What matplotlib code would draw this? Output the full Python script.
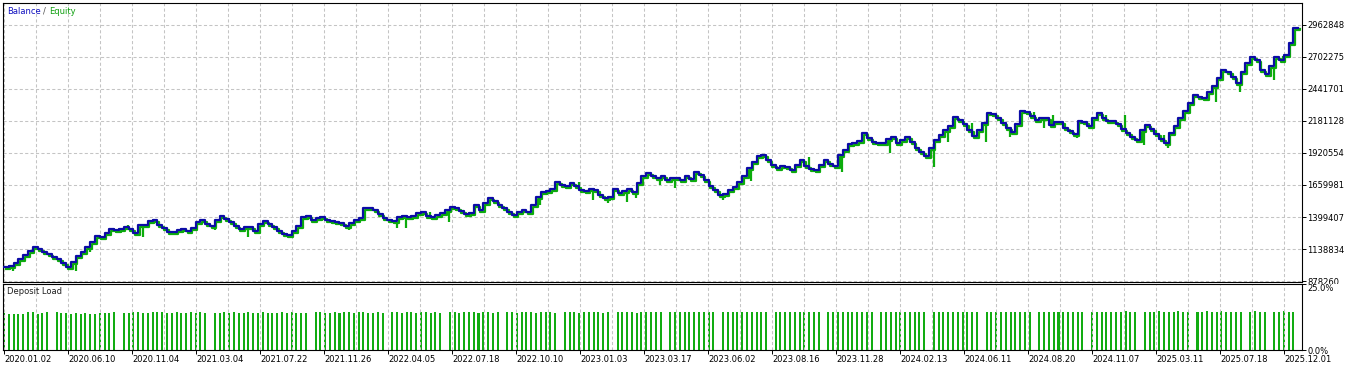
import numpy as np
import matplotlib.pyplot as plt
from matplotlib.transforms import offset_copy
from matplotlib.patches import Rectangle

# balance after each deal, in thousands
balance_k = [
    994.3, 1002.4, 1026.8, 1059.2, 1091.7, 1124.2, 1156.7, 1140.5, 1116.1, 1099.9,
    1075.5, 1059.2, 1026.8, 994.3, 1034.9, 1083.6, 1116.1, 1156.7, 1197.2, 1245.9,
    1237.8, 1270.3, 1302.8, 1294.7, 1302.8, 1318.9, 1302.8, 1270.3, 1335.2, 1335.2,
    1367.7, 1375.8, 1335.2, 1310.9, 1278.4, 1278.4, 1294.7, 1302.8, 1286.6, 1310.9,
    1359.6, 1375.8, 1343.4, 1327.2, 1375.8, 1408.3, 1383.9, 1359.6, 1327.2, 1302.8,
    1318.9, 1318.9, 1286.6, 1343.4, 1367.7, 1343.4, 1318.9, 1286.6, 1262.2, 1254.0,
    1286.6, 1327.2, 1400.2, 1408.3, 1375.8, 1392.1, 1400.2, 1375.8, 1367.7, 1359.6,
    1351.5, 1327.2, 1351.5, 1375.8, 1392.1, 1473.3, 1473.3, 1457.0, 1424.6, 1392.1,
    1375.8, 1367.7, 1400.2, 1408.3, 1400.2, 1408.3, 1432.7, 1440.8, 1408.3, 1400.2,
    1416.5, 1432.7, 1457.0, 1481.4, 1473.3, 1448.9, 1424.6, 1432.7, 1497.6, 1457.0,
    1513.8, 1554.4, 1530.0, 1497.6, 1473.3, 1440.8, 1416.5, 1440.8, 1457.0, 1440.8,
    1497.6, 1562.5, 1603.1, 1611.2, 1627.5, 1684.3, 1660.0, 1651.9, 1676.2, 1651.9,
    1619.4, 1611.2, 1627.5, 1619.4, 1578.8, 1554.4, 1562.5, 1627.5, 1595.0, 1611.2,
    1627.5, 1603.1, 1676.2, 1733.0, 1757.4, 1733.0, 1716.8, 1733.0, 1700.6, 1716.8,
    1716.8, 1700.6, 1733.0, 1708.7, 1765.5, 1741.1, 1700.6, 1651.9, 1619.4, 1578.8,
    1586.9, 1619.4, 1643.7, 1684.3, 1733.0, 1798.0, 1846.7, 1895.4, 1903.5, 1862.9,
    1822.3, 1798.0, 1814.2, 1806.1, 1781.7, 1822.3, 1862.9, 1814.2, 1789.8, 1781.7,
    1822.3, 1862.9, 1830.4, 1814.2, 1903.5, 1944.1, 1992.8, 2001.0, 2017.2, 2082.2,
    2041.6, 2009.1, 2001.0, 2001.0, 2033.5, 2049.7, 2001.0, 2025.3, 2049.7, 2009.1,
    1960.3, 1927.9, 1895.4, 1960.3, 2025.3, 2065.9, 2106.4, 2138.9, 2212.0, 2187.6,
    2155.2, 2106.4, 2057.7, 2106.4, 2163.3, 2244.5, 2236.3, 2203.9, 2163.3, 2122.7,
    2090.3, 2155.2, 2260.7, 2252.6, 2220.1, 2187.6, 2203.9, 2203.9, 2147.0, 2171.4,
    2171.4, 2122.7, 2098.4, 2074.0, 2179.5, 2171.4, 2138.9, 2203.9, 2244.5, 2203.9,
    2179.5, 2179.5, 2155.2, 2114.6, 2082.2, 2049.7, 2025.3, 2106.4, 2147.0, 2114.6,
    2074.0, 2033.5, 2001.0, 2082.2, 2138.9, 2203.9, 2260.7, 2325.6, 2390.6, 2374.3,
    2366.2, 2414.9, 2463.6, 2528.6, 2593.5, 2577.3, 2536.7, 2488.0, 2577.3, 2650.3,
    2699.0, 2674.7, 2593.5, 2561.0, 2626.0, 2699.0, 2674.7, 2715.3, 2812.7, 2934.4,
    2936.0,
]

# equity extremes that stick out of the balance line
spike_deal = [1, 14, 17, 25, 28, 43, 46, 50, 59, 63, 71, 81, 83, 88, 91, 92,
              111, 113, 119, 122, 125, 129, 131, 136, 139, 149, 155, 167, 174,
              184, 193, 196, 201, 204, 209, 214, 216, 218, 223, 229, 233, 237,
              241, 242, 252, 257, 264, 266]
spike_equity_k = [975.6, 975.6, 1132.3, 1349.0, 1254.1, 1308.4, 1408.3, 1254.1,
                  1240.3, 1430.2, 1311.0, 1321.5, 1321.5, 1457.0, 1457.0, 1370.0,
                  1514.0, 1643.7, 1700.6, 1554.4, 1524.4, 1538.2, 1565.0, 1676.2,
                  1646.0, 1554.4, 1708.7, 1903.5, 1781.7, 1930.3, 1822.3, 2025.3,
                  2173.8, 2025.3, 2065.9, 2268.8, 2133.2, 2242.0, 2052.0, 2242.0,
                  2242.0, 1998.5, 2080.0, 1970.9, 2350.0, 2431.2, 2526.0, 2721.0]

# deposit load per deal, %
deposit_load = [
    14.1, 13.6, 13.6, 13.6, 13.6, 14.3, 14.3, 13.6, 13.9, 14.3,
    0.0, 14.3, 13.9, 13.9, 13.6, 13.9, 13.6, 13.9, 13.6, 13.6,
    13.9, 13.9, 13.9, 14.3, 0.0, 13.9, 13.9, 14.3, 14.3, 13.9,
    13.9, 14.3, 14.3, 14.3, 13.9, 13.9, 14.3, 13.9, 13.9, 14.3,
    13.9, 14.3, 13.9, 0.0, 13.9, 13.9, 14.3, 13.9, 14.3, 13.9,
    13.9, 14.3, 13.9, 13.9, 14.3, 13.9, 13.9, 13.9, 14.3, 13.9,
    14.3, 13.9, 13.9, 13.9, 0.0, 14.3, 14.3, 13.9, 13.9, 14.3,
    13.9, 14.3, 14.3, 13.9, 14.3, 14.3, 13.9, 13.9, 14.3, 13.9,
    0.0, 14.3, 14.3, 13.9, 14.3, 14.3, 13.9, 14.3, 14.3, 13.9,
    14.3, 13.9, 0.0, 14.3, 14.3, 13.9, 14.3, 14.3, 14.3, 13.9,
    14.3, 14.3, 13.9, 14.3, 0.0, 14.3, 14.3, 13.9, 14.3, 14.3,
    14.3, 13.9, 14.3, 14.3, 14.3, 13.9, 0.0, 14.3, 14.3, 14.3,
    13.9, 14.3, 14.3, 14.5, 14.3, 13.9, 14.3, 0.0, 14.3, 14.5,
    14.3, 14.3, 13.9, 14.5, 14.3, 14.3, 14.3, 14.5, 0.0, 14.3,
    14.5, 14.3, 14.3, 14.5, 14.3, 14.3, 14.5, 14.3, 14.3, 0.0,
    14.3, 14.5, 14.3, 14.5, 14.3, 14.3, 14.5, 14.5, 14.3, 14.3,
    0.0, 14.5, 14.3, 14.5, 14.3, 14.5, 14.5, 14.3, 14.5, 14.3,
    14.5, 0.0, 14.3, 14.5, 14.5, 14.3, 14.5, 14.3, 14.5, 14.5,
    14.3, 14.5, 0.0, 14.5, 14.3, 14.5, 14.5, 14.3, 14.5, 14.5,
    14.3, 14.5, 14.5, 0.0, 14.5, 14.3, 14.5, 14.5, 14.5, 14.3,
    14.5, 14.5, 14.3, 14.5, 0.0, 14.5, 14.5, 14.3, 14.5, 14.5,
    14.5, 14.3, 14.5, 14.5, 14.5, 0.0, 14.5, 14.5, 14.3, 14.5,
    14.5, 14.5, 14.3, 14.5, 14.5, 14.5, 0.0, 14.5, 14.5, 14.5,
    14.5, 14.3, 14.5, 14.5, 14.9, 14.5, 14.5, 0.0, 14.5, 14.5,
    14.5, 14.9, 14.5, 14.5, 14.5, 14.9, 14.5, 14.5, 0.0, 14.5,
    14.5, 14.9, 14.5, 14.5, 14.9, 14.5, 14.5, 14.5, 14.5, 0.0,
    14.5, 14.9, 14.5, 14.5, 0.0, 14.5, 14.5, 14.9, 14.5, 14.5,
    0.0,
]

date_labels = ['2020.01.02', '2020.06.10', '2020.11.04', '2021.03.04', '2021.07.22',
               '2021.11.26', '2022.04.05', '2022.07.18', '2022.10.10', '2023.01.03',
               '2023.03.17', '2023.06.02', '2023.08.16', '2023.11.28', '2024.02.13',
               '2024.06.11', '2024.08.20', '2024.11.07', '2025.03.11', '2025.07.18',
               '2025.12.01']
y_levels = [878260, 1138834, 1399407, 1659981, 1920554, 2181128, 2441701, 2702275, 2962848]

balance = np.array(balance_k) * 1000
deals = np.arange(len(balance))
spike_eq = np.array(spike_equity_k) * 1000
spike_bal = balance[spike_deal]

W, H = 1346, 367
plt.rcParams['font.family'] = ['DejaVu Sans']
fs = 6.0
blue = '#0c0ca6'
green = '#0cac0c'
grid_kw = dict(color='#c4c4c4', linestyle=(0, (3.0, 2.2)), linewidth=0.75)

fig = plt.figure(figsize=(W / 100, H / 100), dpi=100)


def px_box(x0, y0, x1, y1):
    # pixel box, origin top-left -> figure fraction
    return [x0 / W, 1 - y1 / H, (x1 - x0) / W, (y1 - y0) / H]


ax = fig.add_axes(px_box(3, 3, 1302, 281.5))
ax2 = fig.add_axes(px_box(3, 284, 1302, 350), zorder=2)

n_last = len(balance) - 1
xlo, xhi = -0.2, n_last + 0.8
label_step = 64 * (xhi - xlo) / 1299
major = np.arange(len(date_labels)) * label_step
minor = np.arange(0, n_last + 1, label_step / 2)

# main panel
eq_tr = offset_copy(ax.transData, fig=fig, x=1.6, y=-1.6, units='dots')
ax.plot(deals, balance, drawstyle='steps-post', color=green, lw=1.6,
        transform=eq_tr, zorder=3)
ax.vlines(np.array(spike_deal) + 0.6, spike_bal, spike_eq, color=green, lw=1.6,
          transform=eq_tr, zorder=3)
ax.plot(deals, balance, drawstyle='steps-post', color=blue, lw=1.6, zorder=4)

ax.set_xlim(xlo, xhi)
ax.set_ylim(876600, 3137400)
ax.set_xticks(minor)
ax.tick_params(axis='x', length=0, labelbottom=False)
ax.yaxis.tick_right()
ax.set_yticks(y_levels, labels=[str(v) for v in y_levels])
ax.tick_params(axis='y', length=3, width=0.7, pad=1.0, labelsize=fs, colors='black')
ax.grid(True, **grid_kw)
for s in ax.spines.values():
    s.set_linewidth(0.8)

fig.text(7 / W, 1 - 11 / H, 'Balance', color='#1010c0', fontsize=fs, va='center')
fig.text(43 / W, 1 - 11 / H, '/', color='#505050', fontsize=fs, va='center')
fig.text(49 / W, 1 - 11 / H, 'Equity', color='#10a010', fontsize=fs, va='center')

# hide lower half of the last price label, like the terminal does
fig.patches.append(Rectangle((1302.6 / W, 0), 1 - 1302.6 / W, 1 - 283.6 / H,
                             transform=fig.transFigure, facecolor='white',
                             edgecolor='none', zorder=1.5))

# deposit load panel
ax2.bar(deals, deposit_load, width=0.42, color='#12ac12', align='center')
ax2.set_xlim(xlo, xhi)
ax2.set_ylim(0, 25)
ax2.set_xticks(major, labels=date_labels)
ax2.set_xticks(minor, minor=True)
ax2.tick_params(axis='x', which='major', length=3, width=0.7, pad=0.5, labelsize=fs)
ax2.tick_params(axis='x', which='minor', length=0)
for lbl in ax2.get_xticklabels():
    lbl.set_ha('left')
ax2.xaxis.grid(True, which='both', **grid_kw)
ax2.yaxis.tick_right()
ax2.set_yticks([0, 25], labels=['0.0%', '25.0%'])
ax2.tick_params(axis='y', length=3, width=0.7, pad=1.0, labelsize=fs)
ax2.get_yticklabels()[1].set_va('top')
for s in ax2.spines.values():
    s.set_linewidth(0.8)
fig.text(7 / W, 1 - 292 / H, 'Deposit Load', color='#202020', fontsize=fs, va='center')

fig.savefig('out.png', dpi=100, facecolor='white')
